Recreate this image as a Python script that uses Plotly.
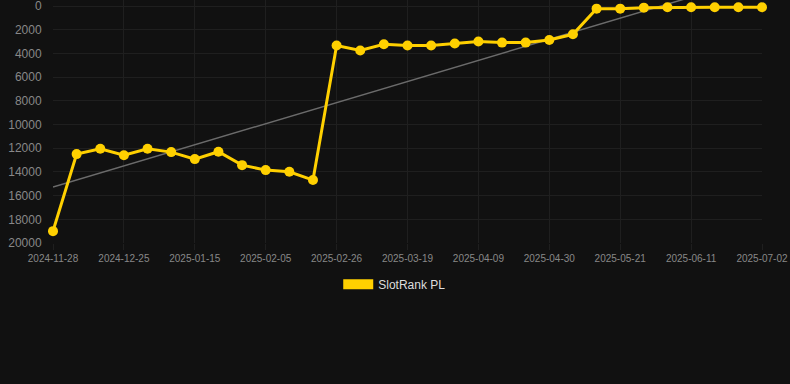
import numpy as np
import plotly.graph_objects as go

dates = ["2024-11-28", "2024-12-04", "2024-12-11", "2024-12-25", "2025-01-01", "2025-01-08",
         "2025-01-15", "2025-01-22", "2025-01-29", "2025-02-05", "2025-02-12", "2025-02-19",
         "2025-02-26", "2025-03-05", "2025-03-12", "2025-03-19", "2025-03-26", "2025-04-02",
         "2025-04-09", "2025-04-16", "2025-04-23", "2025-04-30", "2025-05-07", "2025-05-14",
         "2025-05-21", "2025-05-28", "2025-06-04", "2025-06-11", "2025-06-18", "2025-06-25",
         "2025-07-02"]
ranks = [19000, 12500, 12050, 12600, 12050, 12330, 12920, 12300, 13430, 13850, 13990, 14690,
         3340, 3760, 3230, 3340, 3340, 3170, 3000, 3090, 3090, 2870, 2390,
         225, 225, 140, 110, 110, 110, 110, 110]
tick_labels = dates[::3]
yticks = list(range(0, 20001, 2000))
series_name = "SlotRank PL"

idx = np.arange(len(dates))
slope, intercept = np.polyfit(idx, np.array(ranks, dtype=float), 1)
trend = slope * idx + intercept

yellow = "#FFD000"
fig = go.Figure()
fig.add_trace(go.Scatter(x=dates, y=trend, mode="lines",
                         line=dict(color="#6b6b6b", width=1.5),
                         showlegend=False, hoverinfo="skip"))
fig.add_trace(go.Scatter(x=dates, y=ranks, mode="lines+markers",
                         line=dict(color=yellow, width=3),
                         marker=dict(color=yellow, size=10),
                         showlegend=False, cliponaxis=False))
fig.add_trace(go.Scatter(x=[None], y=[None], mode="lines", name=series_name,
                         line=dict(color=yellow, width=11), showlegend=True))

fig.update_layout(
    width=790, height=384,
    paper_bgcolor="#111111", plot_bgcolor="#111111",
    margin=dict(l=53, r=28, t=0, b=141),
    font=dict(family="Arial, Liberation Sans, sans-serif", color="#888888"),
    xaxis=dict(type="category", categoryorder="array", categoryarray=dates,
               range=[0, len(dates) - 1],
               tickmode="array", tickvals=tick_labels, ticktext=tick_labels,
               tickfont=dict(size=10, color="#888888"), tickangle=0,
               showgrid=True, gridcolor="#1f1f1f", gridwidth=1,
               zeroline=False, showline=False, ticks="outside", ticklen=6,
               tickcolor="#1f1f1f"),
    yaxis=dict(range=[20000, -506], tickvals=yticks, tickformat="d",
               tickfont=dict(size=12, color="#888888"), ticklabeloverflow="allow",
               showgrid=True, gridcolor="#1f1f1f", gridwidth=1,
               zeroline=False, showline=False, ticks="outside", ticklen=8,
               tickcolor="#111111"),
    legend=dict(orientation="h", x=0.482, xanchor="center",
                y=-0.11, yanchor="top",
                font=dict(size=12, color="#dddddd"), bgcolor="rgba(0,0,0,0)"),
    showlegend=True,
)

fig.write_html("out.html", config={"displayModeBar": False},
               post_script="document.body.style.margin='0';document.body.style.overflow='hidden';")
